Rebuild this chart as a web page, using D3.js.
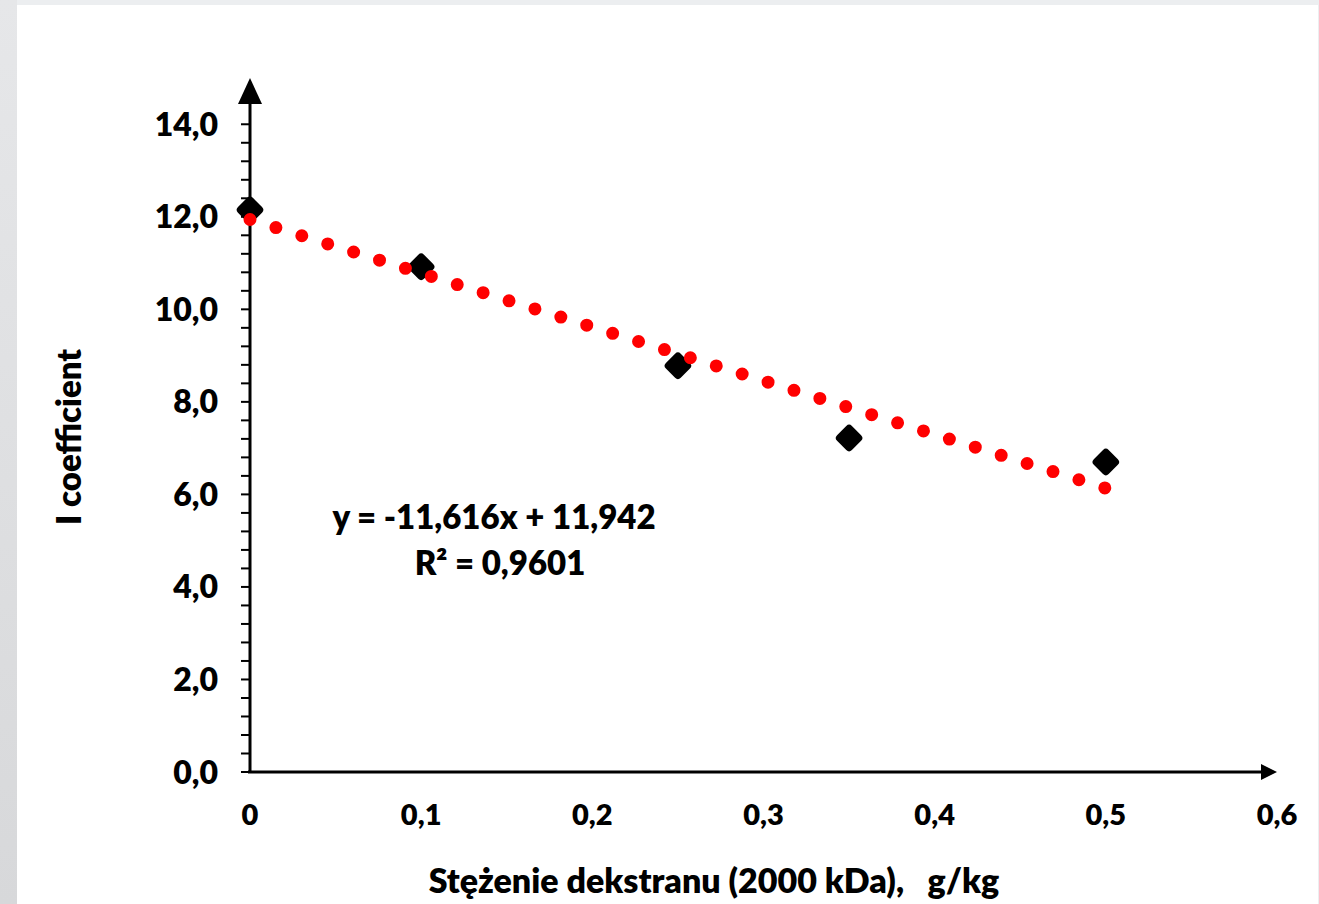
<!DOCTYPE html>
<html>
<head>
<meta charset="utf-8">
<script src="https://cdn.jsdelivr.net/npm/d3@7"></script>
<style>
  html, body { margin: 0; padding: 0; background: #e9eaec; }
  svg { display: block; }
  text { white-space: pre; }
</style>
</head>
<body>
<svg id="svg"></svg>
<script>
const width = 1319;
const height = 904;

// measured points
const xValues = [0, 0.1, 0.25, 0.35, 0.5];
const yValues = [12.15, 10.92, 8.78, 7.22, 6.70];

// axis ticks
const xTicks = [0, 0.1, 0.2, 0.3, 0.4, 0.5, 0.6];
const xTickLabels = ["0", "0,1", "0,2", "0,3", "0,4", "0,5", "0,6"];
const yTicks = [0, 2, 4, 6, 8, 10, 12, 14];
const yTickLabels = ["0,0", "2,0", "4,0", "6,0", "8,0", "10,0", "12,0", "14,0"];

// linear trend from the chart
const slope = -11.616;
const intercept = 11.942;
const equationLines = ["y = -11,616x + 11,942", "R² = 0,9601"];

const xTitle = "Stężenie dekstranu (2000 kDa),   g/kg";
const yTitle = "I coefficient";

const font = "Lato, 'Open Sans', sans-serif";
const weight = 800;

const svg = d3.select("#svg")
    .attr("width", width)
    .attr("height", height)
    .attr("viewBox", [0, 0, width, height]);

// grey frame like the screenshot
const grad = svg.append("defs").append("linearGradient")
    .attr("id", "side").attr("x1", 0).attr("y1", 0).attr("x2", 0).attr("y2", 1);
grad.append("stop").attr("offset", "0%").attr("stop-color", "#e6e7e9");
grad.append("stop").attr("offset", "100%").attr("stop-color", "#d7d8da");

svg.append("rect").attr("width", width).attr("height", height).attr("fill", "#eceef0");
svg.append("rect").attr("x", 0).attr("y", 0).attr("width", 17).attr("height", height).attr("fill", "url(#side)");
svg.append("rect").attr("x", 17).attr("y", 5).attr("width", width - 18).attr("height", height - 5).attr("fill", "#ffffff");

const x = d3.scaleLinear().domain([0, 0.6]).range([250, 1277]);
const y = d3.scaleLinear().domain([0, 15]).range([772, 78]);

// y axis: ticks every 0.4 on the left side
const yMinor = d3.range(0, 14.01, 0.4);
svg.append("g")
    .selectAll("line")
    .data(yMinor)
    .join("line")
    .attr("x1", 241)
    .attr("x2", 250)
    .attr("y1", d => y(d))
    .attr("y2", d => y(d))
    .attr("stroke", "#000")
    .attr("stroke-width", 2);

svg.append("line")
    .attr("x1", x(0)).attr("x2", x(0))
    .attr("y1", y(0)).attr("y2", y(15) + 20)
    .attr("stroke", "#000").attr("stroke-width", 3);

svg.append("path")
    .attr("d", `M${x(0)},${y(15)} L${x(0) - 12},${y(15) + 26} L${x(0) + 12},${y(15) + 26} Z`)
    .attr("fill", "#000");

// x axis with arrow
svg.append("line")
    .attr("x1", x(0) - 2).attr("x2", x(0.6) - 12)
    .attr("y1", y(0)).attr("y2", y(0))
    .attr("stroke", "#000").attr("stroke-width", 3);

svg.append("path")
    .attr("d", `M${x(0.6)},${y(0)} L${x(0.6) - 16},${y(0) - 8} L${x(0.6) - 16},${y(0) + 8} Z`)
    .attr("fill", "#000");

// tick labels
svg.append("g")
    .selectAll("text")
    .data(yTicks)
    .join("text")
    .attr("x", 218)
    .attr("y", d => y(d))
    .attr("dy", "0.36em")
    .attr("text-anchor", "end")
    .attr("font-family", font)
    .attr("font-weight", weight)
    .attr("font-size", "32px")
    .text((d, i) => yTickLabels[i]);

svg.append("g")
    .selectAll("text")
    .data(xTicks)
    .join("text")
    .attr("x", d => x(d))
    .attr("y", 825)
    .attr("text-anchor", "middle")
    .attr("font-family", font)
    .attr("font-weight", weight)
    .attr("font-size", "29px")
    .text((d, i) => xTickLabels[i]);

// data markers: rounded diamonds
const points = xValues.map((v, i) => ({ x: v, y: yValues[i] }));
svg.append("g")
    .selectAll("rect")
    .data(points)
    .join("rect")
    .attr("x", -8.5)
    .attr("y", -8.5)
    .attr("width", 17)
    .attr("height", 17)
    .attr("rx", 2)
    .attr("fill", "#000")
    .attr("stroke", "#000")
    .attr("stroke-width", 4)
    .attr("stroke-linejoin", "round")
    .attr("transform", d => `translate(${x(d.x)},${y(d.y)}) rotate(45)`);

// dotted trend line on top
const x0 = d3.min(xValues), x1 = d3.max(xValues);
svg.append("line")
    .attr("x1", x(x0)).attr("y1", y(slope * x0 + intercept))
    .attr("x2", x(x1)).attr("y2", y(slope * x1 + intercept))
    .attr("stroke", "#ff0000")
    .attr("stroke-width", 13)
    .attr("stroke-linecap", "round")
    .attr("stroke-dasharray", "0,27.15");

// equation
svg.append("text")
    .attr("x", 494)
    .attr("y", 529)
    .attr("text-anchor", "middle")
    .attr("font-family", font)
    .attr("font-weight", weight)
    .attr("font-size", "33px")
    .text(equationLines[0]);

svg.append("text")
    .attr("x", 500)
    .attr("y", 575)
    .attr("text-anchor", "middle")
    .attr("font-family", font)
    .attr("font-weight", weight)
    .attr("font-size", "33px")
    .text(equationLines[1]);

// axis titles
svg.append("text")
    .attr("x", 714)
    .attr("y", 893)
    .attr("text-anchor", "middle")
    .attr("font-family", font)
    .attr("font-weight", weight)
    .attr("font-size", "34px")
    .text(xTitle);

svg.append("text")
    .attr("transform", "translate(81,437) rotate(-90)")
    .attr("text-anchor", "middle")
    .attr("font-family", font)
    .attr("font-weight", weight)
    .attr("font-size", "33px")
    .text(yTitle);
</script>
</body>
</html>
